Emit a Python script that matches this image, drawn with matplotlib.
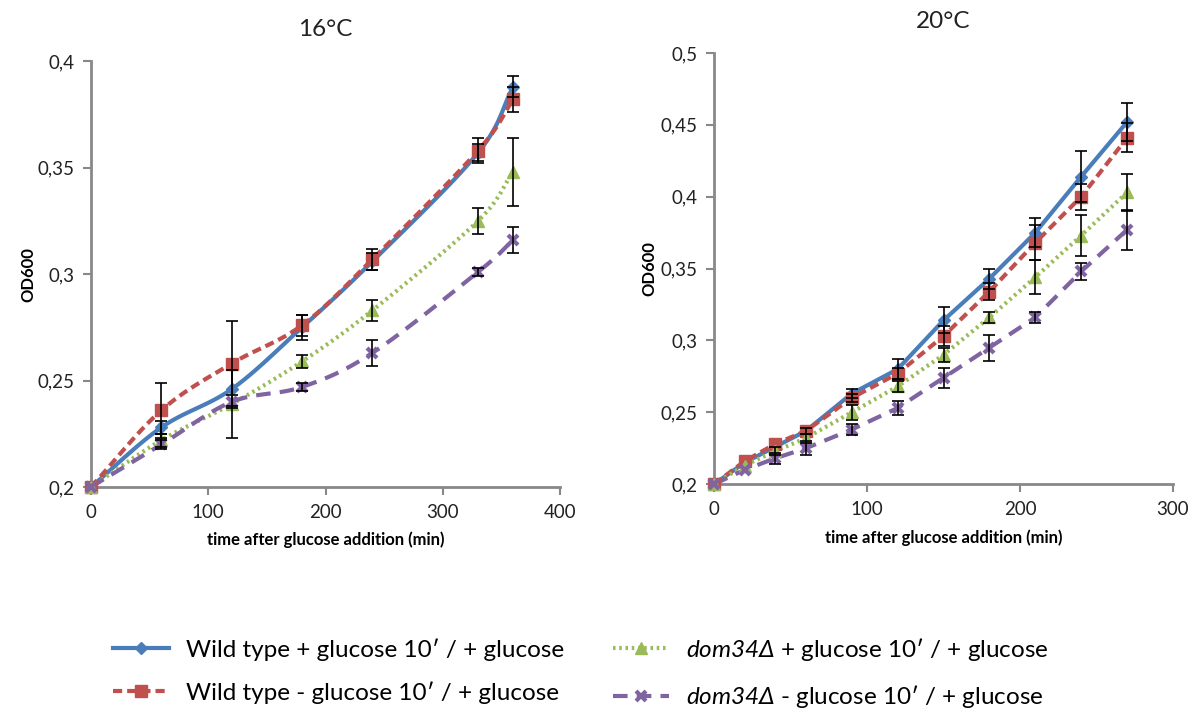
import numpy as np
import matplotlib
matplotlib.use("Agg")
import matplotlib.pyplot as plt
from matplotlib.lines import Line2D

plt.rcParams['font.family'] = ['Lato', 'DejaVu Sans']
plt.rcParams['mathtext.fontset'] = 'custom'
plt.rcParams['mathtext.sf'] = 'Lato:italic'
plt.rcParams['mathtext.rm'] = 'Lato'
plt.rcParams['mathtext.it'] = 'Lato:italic'
plt.rcParams['mathtext.fallback'] = 'stixsans'

# ---------------- data ----------------
PRIME = "\u2032"
labels = ["Wild type + glucose 10" + PRIME + " / + glucose",
          "Wild type - glucose 10" + PRIME + " / + glucose",
          "$\\mathsf{dom34\u0394}$ + glucose 10" + PRIME + " / + glucose",
          "$\\mathsf{dom34\u0394}$ - glucose 10" + PRIME + " / + glucose"]

time16 = [0, 60, 120, 180, 240, 330, 360]
wt_plus_16 = [0.200, 0.228, 0.246, 0.275, 0.306, 0.357, 0.388]
wt_minus_16 = [0.200, 0.236, 0.258, 0.276, 0.307, 0.358, 0.382]
dom_plus_16 = [0.200, 0.222, 0.239, 0.259, 0.283, 0.325, 0.348]
dom_minus_16 = [0.200, 0.220, 0.240, 0.247, 0.263, 0.301, 0.316]
wt_plus_16_err = [0, 0.003, 0.0, 0.006, 0.004, 0.004, 0.005]
wt_minus_16_err = [0, 0.013, 0.020, 0.005, 0.005, 0.006, 0.006]
dom_plus_16_err = [0, 0.003, 0.016, 0.003, 0.005, 0.006, 0.016]
dom_minus_16_err = [0, 0.002, 0.003, 0.002, 0.006, 0.002, 0.006]

time20 = [0, 20, 40, 60, 90, 120, 150, 180, 210, 240, 270]
wt_plus_20 = [0.200, 0.215, 0.226, 0.237, 0.263, 0.280, 0.314, 0.343, 0.375, 0.414, 0.452]
wt_minus_20 = [0.200, 0.216, 0.228, 0.237, 0.260, 0.277, 0.303, 0.334, 0.368, 0.400, 0.441]
dom_plus_20 = [0.200, 0.213, 0.223, 0.232, 0.250, 0.268, 0.290, 0.316, 0.344, 0.373, 0.403]
dom_minus_20 = [0.200, 0.210, 0.218, 0.225, 0.238, 0.253, 0.274, 0.295, 0.316, 0.348, 0.377]
wt_plus_20_err = [0, 0.0, 0.0, 0.002, 0.003, 0.007, 0.009, 0.007, 0.010, 0.018, 0.013]
wt_minus_20_err = [0, 0.0, 0.0, 0.0, 0.003, 0.004, 0.007, 0.006, 0.012, 0.009, 0.010]
dom_plus_20_err = [0, 0.0, 0.003, 0.003, 0.005, 0.004, 0.005, 0.004, 0.012, 0.014, 0.013]
dom_minus_20_err = [0, 0.0, 0.004, 0.005, 0.004, 0.005, 0.007, 0.009, 0.004, 0.006, 0.014]

yticks16 = [0.2, 0.25, 0.3, 0.35, 0.4]
yticks20 = [0.2, 0.25, 0.3, 0.35, 0.4, 0.45, 0.5]
xticks16 = [0, 100, 200, 300, 400]
xticks20 = [0, 100, 200, 300]

colors = ['#4A7EBB', '#C0504D', '#9BBB59', '#8064A2']
styles = [
    dict(ls='-', lw=3.0, marker='D', ms=6),
    dict(ls=(0, (2.2, 1.2)), lw=3.0, marker='s', ms=8),
    dict(ls=(0, (0.6, 0.9)), lw=3.0, marker='^', ms=8),
    dict(ls=(0, (3.5, 2.2)), lw=3.0, marker='x', ms=7, mew=3),
]


def smooth(x, y, n=20):
    """Catmull-Rom drawing path through the data points (like smoothed Excel lines)."""
    x = np.asarray(x, float)
    y = np.asarray(y, float)
    px = np.concatenate([[2 * x[0] - x[1]], x, [2 * x[-1] - x[-2]]])
    py = np.concatenate([[2 * y[0] - y[1]], y, [2 * y[-1] - y[-2]]])
    xs, ys = [], []
    for i in range(1, len(px) - 2):
        t = np.linspace(0, 1, n, endpoint=False)
        for P, out in ((px, xs), (py, ys)):
            p0, p1, p2, p3 = P[i - 1], P[i], P[i + 1], P[i + 2]
            out.extend(0.5 * ((2 * p1) + (-p0 + p2) * t + (2 * p0 - 5 * p1 + 4 * p2 - p3) * t ** 2
                              + (-p0 + 3 * p1 - 3 * p2 + p3) * t ** 3))
    xs.append(x[-1]); ys.append(y[-1])
    return xs, ys


fig = plt.figure(figsize=(12, 7.11), dpi=100)
ax1 = fig.add_axes([0.0758, 0.315, 0.391, 0.599])
ax2 = fig.add_axes([0.595, 0.319, 0.3825, 0.6065])

panels = [
    (ax1, time16, [wt_plus_16, wt_minus_16, dom_plus_16, dom_minus_16],
     [wt_plus_16_err, wt_minus_16_err, dom_plus_16_err, dom_minus_16_err],
     "16\u00b0C", xticks16, yticks16, True, -0.117),
    (ax2, time20, [wt_plus_20, wt_minus_20, dom_plus_20, dom_minus_20],
     [wt_plus_20_err, wt_minus_20_err, dom_plus_20_err, dom_minus_20_err],
     "20\u00b0C", xticks20, yticks20, False, -0.124),
]

for ax, t, series, errs, title, xt, yt, sm, ylx in panels:
    for k in range(4):
        st = styles[k]
        if sm:
            xs, ys = smooth(t, series[k])
        else:
            xs, ys = t, series[k]
        ax.plot(xs, ys, color=colors[k], ls=st['ls'], lw=st['lw'], zorder=3,
                solid_capstyle='butt', dash_capstyle='butt', clip_on=False)
        ax.plot(t, series[k], ls='none', marker=st['marker'], ms=st['ms'],
                mew=st.get('mew', 1), color=colors[k], mec=colors[k], zorder=4, clip_on=False)
        e = np.asarray(errs[k])
        m = e > 0
        ax.errorbar(np.asarray(t)[m], np.asarray(series[k])[m], yerr=e[m], fmt='none',
                    ecolor='black', elinewidth=1.2, capsize=4, capthick=1.2, zorder=5)
    ax.set_xlim(xt[0], xt[-1])
    ax.set_ylim(yt[0], yt[-1])
    ax.set_xticks(xt)
    ax.set_yticks(yt)
    ax.set_yticklabels([('%g' % v).replace('.', ',') for v in yt])
    ax.set_xticklabels([str(v) for v in xt])
    for s in ['top', 'right']:
        ax.spines[s].set_visible(False)
    for s in ['left', 'bottom']:
        ax.spines[s].set_color('#888888')
        ax.spines[s].set_linewidth(2)
    ax.tick_params(axis='both', colors='#888888', width=1.5, length=6, labelsize=13.5,
                   labelcolor='#222222', pad=6)
    ax.set_title(title, fontsize=17.5, color='#222222', pad=18)
    ax.set_ylabel("OD600", fontsize=12, fontweight='bold')
    ax.yaxis.set_label_coords(ylx, 0.5)
    ax.set_xlabel("time after glucose addition (min)", fontsize=12, fontweight='bold', labelpad=8)

handles = []
for k in range(4):
    st = styles[k]
    handles.append(Line2D([], [], color=colors[k], ls=st['ls'], lw=st['lw'],
                          marker=st['marker'], ms=st['ms'], mew=st.get('mew', 1),
                          mec=colors[k]))

fig.legend(handles, labels, ncol=2, loc='lower left', bbox_to_anchor=(0.076, -0.03),
           frameon=False, fontsize=17.5, handlelength=2.3, handletextpad=0.7,
           columnspacing=2.0, labelspacing=0.85)

fig.savefig("out.png", dpi=100)
